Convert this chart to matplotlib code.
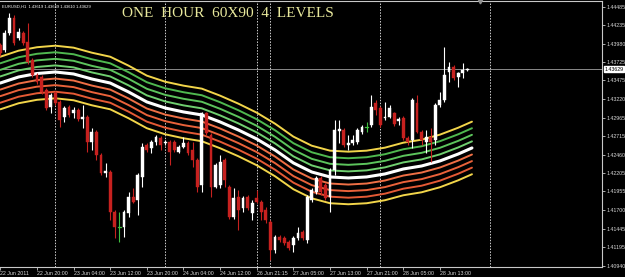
import matplotlib
matplotlib.use("Agg")
import matplotlib.pyplot as plt
from matplotlib import font_manager
from matplotlib.patches import Rectangle
from matplotlib.transforms import blended_transform_factory

# ---------------- data (EURUSD H1) ----------------
opens = [1.43961, 1.43892, 1.44125, 1.44331, 1.44057, 1.44125, 1.44002, 1.43756, 1.43550, 1.43523,
         1.43345, 1.43112, 1.43304, 1.43181, 1.42975, 1.43112, 1.43030, 1.43071, 1.42948, 1.42975,
         1.42633, 1.42770, 1.42455, 1.42208, 1.42222, 1.41675, 1.41469, 1.41469, 1.41661, 1.41880,
         1.41839, 1.42154, 1.42592, 1.42551, 1.42633, 1.42688, 1.42619, 1.42633, 1.42633, 1.42496,
         1.42565, 1.42619, 1.42523, 1.42386, 1.42044, 1.43030, 1.42729, 1.42017, 1.42044, 1.42386,
         1.42017, 1.41606, 1.41880, 1.41729, 1.41880, 1.41661, 1.41866, 1.41812, 1.41702, 1.41538,
         1.41154, 1.41332, 1.41319, 1.41264, 1.41223, 1.41319, 1.41401, 1.41291, 1.41839, 1.41949,
         1.42140, 1.42044, 1.41880, 1.42250, 1.42783, 1.42797, 1.42592, 1.42619, 1.42633, 1.42770,
         1.42838, 1.42866, 1.43167, 1.43098, 1.42962, 1.42975, 1.43030, 1.42921, 1.42962, 1.42688,
         1.42660, 1.43167, 1.42770, 1.42633, 1.42701, 1.42660, 1.43140, 1.43208, 1.43592, 1.43660,
         1.43523, 1.43578, 1.43619]
highs = [1.43988, 1.44166, 1.44399, 1.44372, 1.44194, 1.44153, 1.44262, 1.43783, 1.43578, 1.43550,
         1.43372, 1.43304, 1.43331, 1.43208, 1.43126, 1.43140, 1.43112, 1.43098, 1.43140, 1.43003,
         1.42825, 1.42797, 1.42482, 1.42346, 1.42250, 1.41702, 1.41675, 1.41702, 1.41949, 1.42003,
         1.42208, 1.42619, 1.42619, 1.42660, 1.42729, 1.42715, 1.42660, 1.42660, 1.42660, 1.42592,
         1.42701, 1.42647, 1.42633, 1.42414, 1.43044, 1.43044, 1.42756, 1.42346, 1.42455, 1.42414,
         1.42044, 1.42003, 1.41976, 1.41894, 1.41907, 1.41839, 1.41976, 1.41839, 1.41743, 1.41565,
         1.41360, 1.41360, 1.41346, 1.41291, 1.41346, 1.41469, 1.41428, 1.41907, 1.42003, 1.42167,
         1.42167, 1.42072, 1.42277, 1.42934, 1.42934, 1.42825, 1.42729, 1.42729, 1.42825, 1.42866,
         1.42907, 1.43276, 1.43208, 1.43126, 1.43181, 1.43140, 1.43044, 1.42975, 1.42989, 1.42715,
         1.43235, 1.43276, 1.42797, 1.42797, 1.42825, 1.43167, 1.43318, 1.43933, 1.43728, 1.43687,
         1.43592, 1.43714, 1.43649]
lows = [1.43810, 1.43865, 1.44098, 1.43961, 1.44029, 1.43961, 1.43701, 1.43523, 1.43427, 1.43290,
        1.43071, 1.43030, 1.43140, 1.42838, 1.42907, 1.42975, 1.42962, 1.42921, 1.42825, 1.42496,
        1.42523, 1.42386, 1.42181, 1.42154, 1.41565, 1.41319, 1.41264, 1.41332, 1.41606, 1.41798,
        1.41634, 1.42017, 1.42496, 1.42482, 1.42592, 1.42523, 1.42592, 1.42318, 1.42496, 1.42482,
        1.42551, 1.42455, 1.42291, 1.41949, 1.41949, 1.42729, 1.41880, 1.42003, 1.42003, 1.42017,
        1.41579, 1.41579, 1.41428, 1.41675, 1.41702, 1.41565, 1.41798, 1.41565, 1.41524, 1.41017,
        1.41113, 1.41264, 1.41223, 1.41154, 1.41127, 1.41291, 1.41291, 1.41250, 1.41812, 1.41921,
        1.41907, 1.41839, 1.41675, 1.42181, 1.42619, 1.42565, 1.42523, 1.42592, 1.42606, 1.42742,
        1.42770, 1.42838, 1.43003, 1.42838, 1.42934, 1.42962, 1.42852, 1.42866, 1.42660, 1.42592,
        1.42551, 1.42756, 1.42592, 1.42482, 1.42359, 1.42592, 1.43112, 1.43181, 1.43454, 1.43482,
        1.43386, 1.43509, 1.43610]
closes = [1.43851, 1.44125, 1.44331, 1.43988, 1.44139, 1.43988, 1.43728, 1.43550, 1.43454, 1.43318,
          1.43098, 1.43276, 1.43167, 1.42934, 1.43098, 1.43003, 1.43071, 1.42948, 1.42975, 1.42633,
          1.42770, 1.42455, 1.42208, 1.42236, 1.41675, 1.41469, 1.41469, 1.41675, 1.41880, 1.41812,
          1.42181, 1.42565, 1.42523, 1.42633, 1.42701, 1.42592, 1.42633, 1.42496, 1.42523, 1.42565,
          1.42619, 1.42482, 1.42386, 1.42017, 1.43030, 1.42756, 1.42017, 1.42318, 1.42359, 1.42113,
          1.41606, 1.41866, 1.41702, 1.41866, 1.41729, 1.41798, 1.41812, 1.41675, 1.41565, 1.41154,
          1.41332, 1.41291, 1.41250, 1.41182, 1.41319, 1.41387, 1.41319, 1.41880, 1.41976, 1.42140,
          1.41949, 1.41866, 1.42250, 1.42797, 1.42811, 1.42592, 1.42619, 1.42660, 1.42797, 1.42838,
          1.42838, 1.43112, 1.43071, 1.42866, 1.42975, 1.43098, 1.42879, 1.42948, 1.42688, 1.42633,
          1.43208, 1.42770, 1.42660, 1.42701, 1.42633, 1.43140, 1.43208, 1.43550, 1.43660, 1.43509,
          1.43578, 1.43619, 1.43629]

# centre moving average (white line), sampled at these bar indices
ma_bars = [0, 4, 8, 12, 16, 20, 24, 28, 32, 36, 40, 44, 48, 52, 56, 60, 64, 68, 72, 76,
           80, 84, 88, 92, 96, 100, 103]
ma_values = [1.43440, 1.43523, 1.43570, 1.43591, 1.43564, 1.43495, 1.43440, 1.43318, 1.43181,
             1.43098, 1.43044, 1.43003, 1.42907, 1.42797, 1.42674, 1.42523, 1.42346, 1.42222,
             1.42154, 1.42140, 1.42154, 1.42195, 1.42263, 1.42304, 1.42373, 1.42468, 1.42551]
band_step = 0.00090          # distance between levels
band_levels = [4, 3, 2, 1, 0, -1, -2, -3, -4]

y_ticks = [1.44485, 1.44235, 1.43980, 1.43725, 1.43475, 1.43220, 1.42965, 1.42715,
           1.42460, 1.42205, 1.41955, 1.41700, 1.41445, 1.41195, 1.40940]
x_tick_bars = [0, 8, 16, 24, 32, 40, 48, 56, 64, 72, 80, 88, 96]
x_tick_labels = ["22 Jun 2011", "22 Jun 20:00", "23 Jun 04:00", "23 Jun 12:00", "23 Jun 20:00",
                 "24 Jun 04:00", "24 Jun 12:00", "26 Jun 21:15", "27 Jun 05:00", "27 Jun 13:00",
                 "27 Jun 21:00", "28 Jun 05:00", "28 Jun 13:00"]
separator_bars = [12, 36, 56, 59, 83, 107]
current_price = 1.43629
header = "EURUSD,H1  1.43619 1.43649 1.43610 1.43629"
title = "ONE  HOUR  60X90  4  LEVELS"

# ---------------- styles ----------------
band_colors = ["#f2d54a", "#4fb84f", "#5cc45c", "#6fcf6f", "#ffffff",
               "#ef6f45", "#ea623a", "#e45a35", "#f2d54a"]
band_widths = [1.4, 1.4, 1.4, 1.4, 2.2, 1.4, 1.4, 1.4, 1.4]
bull_color = "#ffffff"
bear_color = "#c7211f"
doji_color = "#3fbf3f"
axis_color = "#c8c8c8"

_names = {f.name for f in font_manager.fontManager.ttflist}
if "Liberation Sans Narrow" in _names:
    small_font = ["Liberation Sans Narrow", "DejaVu Sans"]
    small_size, header_size = 4.5, 3.7
else:
    small_font = ["Liberation Sans", "DejaVu Sans"]
    small_size, header_size = 3.8, 3.0

W, H = 625, 277
fig = plt.figure(figsize=(W / 100, H / 100), dpi=100, facecolor="black")
ax = fig.add_axes([0.0, 10 / H, 602 / W, 266 / H], facecolor="black")

# bands
for lvl, col, lw in zip(band_levels, band_colors, band_widths):
    ax.plot(ma_bars, [v + lvl * band_step for v in ma_values], color=col, lw=lw,
            solid_capstyle="round", solid_joinstyle="round", zorder=2)

# candles
body_w = 0.62
for i, (o, h, l, c) in enumerate(zip(opens, highs, lows, closes)):
    if c > o:
        col = bull_color
    elif c < o:
        col = bear_color
    else:
        col = doji_color
    ax.plot([i, i], [l, h], color=col, lw=0.8, zorder=3, solid_capstyle="butt")
    if c == o:
        ax.plot([i - body_w / 2, i + body_w / 2], [o, o], color=col, lw=0.9, zorder=3)
    else:
        ax.add_patch(Rectangle((i - body_w / 2, min(o, c)), body_w, abs(c - o),
                               facecolor=col, edgecolor=col, lw=0.3, zorder=4))

# period separators
for b in separator_bars:
    ax.axvline(b, color="#d0d0d0", lw=0.7, ls=(0, (1.5, 1.5)), zorder=1)

# current price line
ax.axhline(current_price, color="#a0a0a0", lw=0.6, zorder=1)

ax.set_xlim(-0.07, 131.4)
ax.set_ylim(1.40921, 1.44563)

# axes appearance
for side in ["top", "right", "bottom"]:
    ax.spines[side].set_color(axis_color)
    ax.spines[side].set_linewidth(0.8)
ax.spines["left"].set_visible(False)

ax.yaxis.tick_right()
ax.set_yticks(y_ticks)
ax.set_yticklabels([f"{v:.5f}" for v in y_ticks], fontsize=small_size, color="#d8d8d8",
                   family=small_font)
ax.tick_params(axis="y", colors=axis_color, length=2, width=0.6, pad=1.0,
               labelcolor="#d8d8d8")
ax.set_xticks(x_tick_bars)
ax.set_xticklabels(x_tick_labels, fontsize=small_size, color="#d8d8d8", ha="left",
                   family=small_font)
ax.tick_params(axis="x", colors=axis_color, length=2, width=0.6, pad=0.8,
               labelcolor="#d8d8d8")

# current price label
ax.text(1.0045, current_price, f"{current_price:.5f}",
        transform=blended_transform_factory(ax.transAxes, ax.transData),
        fontsize=small_size, family=small_font, color="black", va="center", ha="left",
        bbox=dict(boxstyle="square,pad=0.1", facecolor="white", edgecolor="white"), zorder=10,
        clip_on=False)

# chart shift marker
ax.plot([104.7], [1.44563], marker="v", color="#909090", ms=3.5, clip_on=False, zorder=5)

# header and title
ax.text(0.003, 0.988, header, transform=ax.transAxes, fontsize=header_size, family=small_font,
        color="white", va="top", ha="left")
ax.text(122 / 602, 0.978, title, transform=ax.transAxes, fontsize=11,
        family=["Liberation Serif", "DejaVu Serif"], color="#e8e89c", va="top", ha="left")

fig.savefig("out.png", dpi=100, facecolor="black")
